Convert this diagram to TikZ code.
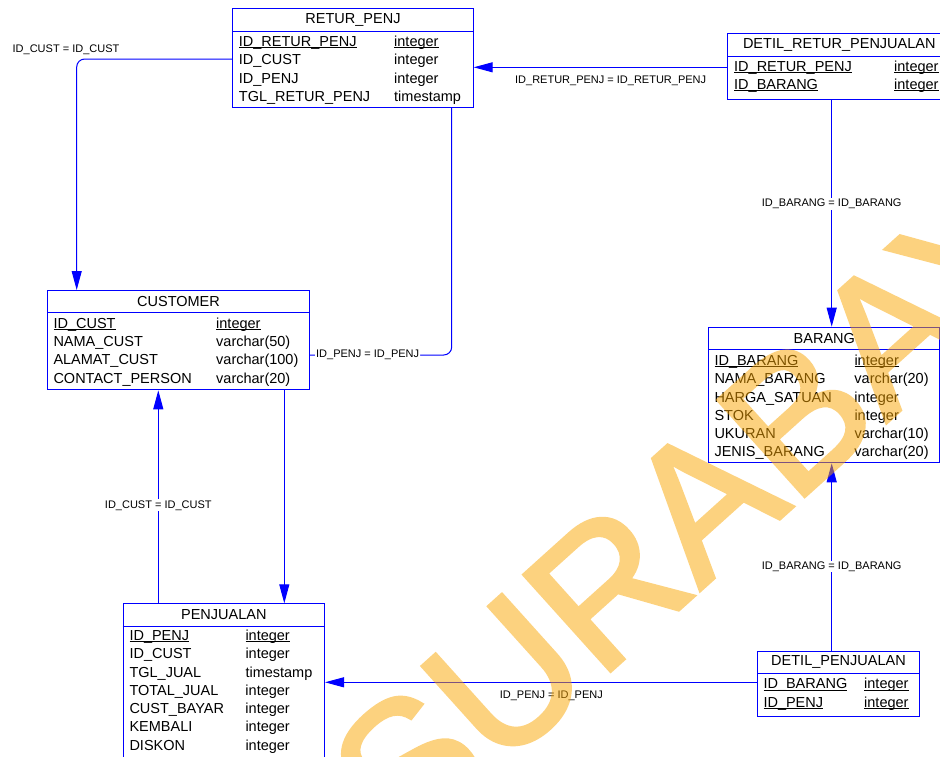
\documentclass[tikz,border=0pt]{standalone}
\usepackage{fontspec}
\setmainfont{Liberation Sans}
\newfontfamily\wmfont[FakeBold=2]{Liberation Sans}
\usepackage{tikz}
\usetikzlibrary{arrows.meta, positioning}

\definecolor{wmorange}{RGB}{250,165,0}
\newsavebox{\pkbox}
\newcommand{\pk}[1]{\leavevmode\sbox{\pkbox}{#1}%
  \rlap{\rule[-1.8pt]{\wd\pkbox}{0.8pt}}\usebox{\pkbox}}

\begin{document}
\begin{tikzpicture}[
    x = 1pt, y = -1pt,
    tbl/.style      = {draw=blue, line width=1pt, fill=white,
                       anchor=north west, inner sep=0pt},
    tbltitle/.style = {anchor=north, minimum height=22.4pt,
                       inner sep=0pt,
                       font=\fontsize{14.5}{17}\selectfont},
    tblsep/.style   = {blue, line width=1pt},
    tblbody/.style  = {anchor=north west, inner sep=0pt,
                       font=\fontsize{14.5}{18.3}\selectfont},
    rel/.style      = {blue, line width=1pt},
    relarrow/.style = {rel, -{Triangle[length=19pt, width=10pt]}},
    lbl/.style      = {inner sep=1pt, text=black,
                       font=\fontsize{11}{13}\selectfont},
    lblon/.style    = {lbl, fill=white},
    watermark/.style = {inner sep=0pt, text=wmorange,
                        font=\wmfont\fontsize{188}{190}\selectfont}
]
\useasboundingbox (0,0) rectangle (940,756);
\clip (0,0) rectangle (940,756);

%% RETUR_PENJ
\node[tbl, minimum width=240.4pt, minimum height=98.4pt]
    (returpenj) at (232.3,8.3) {};
\node[tbltitle] (returpenj-t) at (returpenj.north) {RETUR\_PENJ};
\draw[tblsep] (returpenj.west |- returpenj-t.south)
           -- (returpenj.east |- returpenj-t.south);
\node[tblbody] (returpenj-b) at (238.7,33.4)
    {\begin{tabular}{@{}p{155.3pt}@{}l@{}}
     \pk{ID\_RETUR\_PENJ} & \pk{integer}\\
     ID\_CUST             & integer\\
     ID\_PENJ             & integer\\
     TGL\_RETUR\_PENJ     & timestamp
     \end{tabular}};

%% DETIL_RETUR_PENJUALAN
\node[tbl, minimum width=223pt, minimum height=65.4pt]
    (detilretur) at (727.3,33.4) {};
\node[tbltitle] (detilretur-t) at (detilretur.north)
    {DETIL\_RETUR\_PENJUALAN};
\draw[tblsep] (detilretur.west |- detilretur-t.south)
           -- (detilretur.east |- detilretur-t.south);
\node[tblbody] (detilretur-b) at (734,58.1)
    {\begin{tabular}{@{}p{160pt}@{}l@{}}
     \pk{ID\_RETUR\_PENJ} & \pk{integer}\\
     \pk{ID\_BARANG}      & \pk{integer}
     \end{tabular}};

%% CUSTOMER
\node[tbl, minimum width=261.4pt, minimum height=99.3pt]
    (customer) at (47.3,290) {};
\node[tbltitle] (customer-t) at (customer.north) {CUSTOMER};
\draw[tblsep] (customer.west |- customer-t.south)
           -- (customer.east |- customer-t.south);
\node[tblbody] (customer-b) at (53.3,315.1)
    {\begin{tabular}{@{}p{162.7pt}@{}l@{}}
     \pk{ID\_CUST}   & \pk{integer}\\
     NAMA\_CUST      & varchar(50)\\
     ALAMAT\_CUST    & varchar(100)\\
     CONTACT\_PERSON & varchar(20)
     \end{tabular}};

%% BARANG
\node[tbl, minimum width=231pt, minimum height=135.6pt]
    (barang) at (708.3,326.7) {};
\node[tbltitle] (barang-t) at (barang.north) {BARANG};
\draw[tblsep] (barang.west |- barang-t.south)
           -- (barang.east |- barang-t.south);
\node[tblbody] (barang-b) at (714.3,352.4)
    {\begin{tabular}{@{}p{140pt}@{}l@{}}
     \pk{ID\_BARANG} & \pk{integer}\\
     NAMA\_BARANG    & varchar(20)\\
     HARGA\_SATUAN   & integer\\
     STOK            & integer\\
     UKURAN          & varchar(10)\\
     JENIS\_BARANG   & varchar(20)
     \end{tabular}};

%% PENJUALAN
\node[tbl, minimum width=201.3pt, minimum height=165pt]
    (penjualan) at (122.7,603.3) {};
\node[tbltitle] (penjualan-t) at (penjualan.north) {PENJUALAN};
\draw[tblsep] (penjualan.west |- penjualan-t.south)
           -- (penjualan.east |- penjualan-t.south);
\node[tblbody] (penjualan-b) at (129.3,627.4)
    {\begin{tabular}{@{}p{116pt}@{}l@{}}
     \pk{ID\_PENJ} & \pk{integer}\\
     ID\_CUST      & integer\\
     TGL\_JUAL     & timestamp\\
     TOTAL\_JUAL   & integer\\
     CUST\_BAYAR   & integer\\
     KEMBALI       & integer\\
     DISKON        & integer
     \end{tabular}};

%% DETIL_PENJUALAN
\node[tbl, minimum width=162pt, minimum height=65pt]
    (detilpenj) at (757,651) {};
\node[tbltitle] (detilpenj-t) at (detilpenj.north)
    {DETIL\_PENJUALAN};
\draw[tblsep] (detilpenj.west |- detilpenj-t.south)
           -- (detilpenj.east |- detilpenj-t.south);
\node[tblbody] (detilpenj-b) at (763.3,675.7)
    {\begin{tabular}{@{}p{100.7pt}@{}l@{}}
     \pk{ID\_BARANG} & \pk{integer}\\
     \pk{ID\_PENJ}   & \pk{integer}
     \end{tabular}};

%% References
\draw[relarrow, rounded corners=8pt]
    (returpenj.west |- 0,59) -| (customer.north -| 76.7,0)
    node[lbl, pos=0.5, xshift=-10.7pt, yshift=9.7pt]
    {ID\_CUST = ID\_CUST};
\draw[relarrow] (detilretur.west |- 0,67.3) -- (returpenj.east |- 0,67.3)
    node[lbl, pos=0.46, below=7.5pt]
    {ID\_RETUR\_PENJ = ID\_RETUR\_PENJ};
\draw[relarrow] (detilretur.south -| 831.7,0) -- (barang.north -| 831.7,0)
    node[lblon, pos=0.46] {ID\_BARANG = ID\_BARANG};
\draw[rel, rounded corners=8pt]
    (returpenj.south -| 451.7,0) |- (customer.east |- 0,355)
    node[lblon, pos=0.796] {ID\_PENJ = ID\_PENJ};
\draw[relarrow] (customer.south -| 284.3,0) -- (penjualan.north -| 284.3,0);
\draw[relarrow] (penjualan.north -| 158.3,0) -- (customer.south -| 158.3,0)
    node[lblon, pos=0.46] {ID\_CUST = ID\_CUST};
\draw[relarrow] (detilpenj.north -| 831.7,0) -- (barang.south -| 831.7,0)
    node[lblon, pos=0.45] {ID\_BARANG = ID\_BARANG};
\draw[relarrow] (detilpenj.west |- 0,682.3) -- (penjualan.east |- 0,682.3)
    node[lbl, pos=0.476, below=7.5pt] {ID\_PENJ = ID\_PENJ};

%% Watermark
\begin{scope}[transparency group, opacity=0.5]
\node[watermark, anchor=base west, rotate=42] (wm) at (405,856)
    {SURABAYA};
\end{scope}
\end{tikzpicture}
\end{document}
